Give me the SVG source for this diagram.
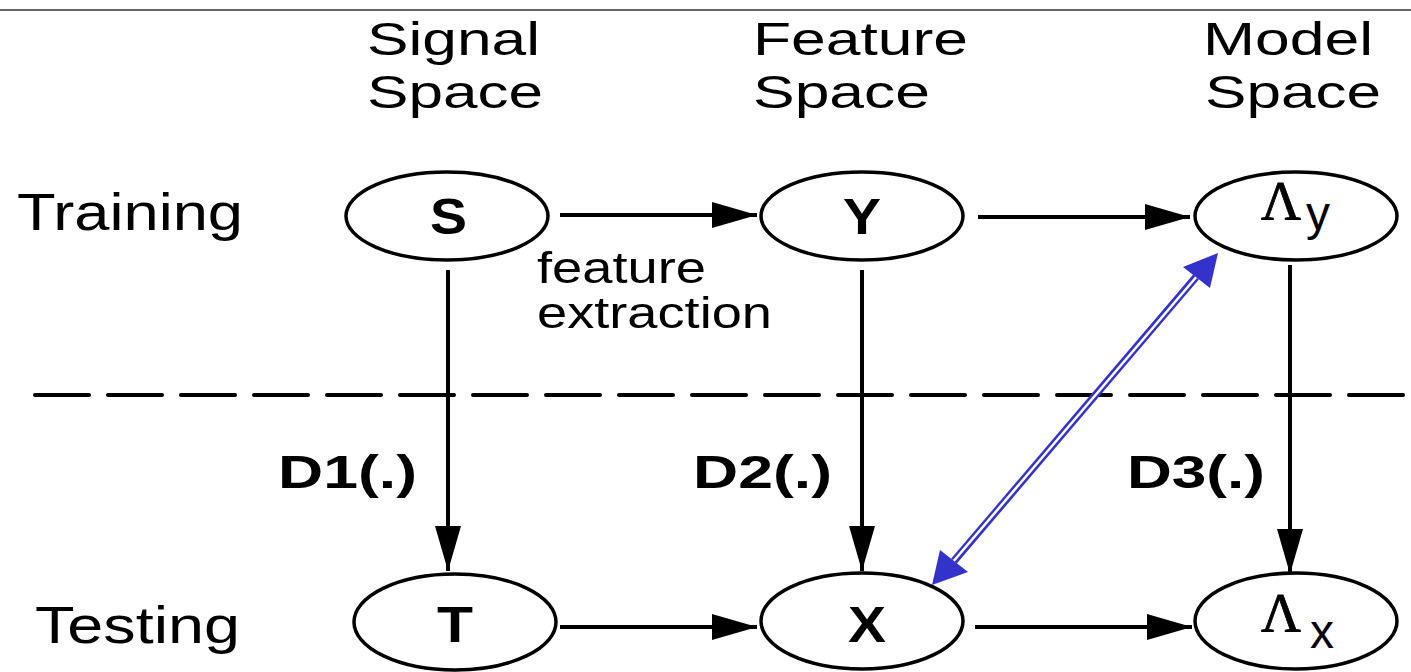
<svg xmlns="http://www.w3.org/2000/svg" width="1411" height="672" viewBox="0 0 1411 672">
<style>
.t{font-family:"Liberation Sans",Arial,sans-serif;font-size:52px;fill:#000}
.h{font-family:"Liberation Sans",Arial,sans-serif;font-size:47px;fill:#000}
.b{font-family:"Liberation Sans",Arial,sans-serif;font-size:46px;font-weight:bold;fill:#000}
.v{font-family:"Liberation Sans",Arial,sans-serif;font-size:50px;font-weight:bold;fill:#000}
.l{font-family:"Liberation Serif","Times New Roman",serif;font-size:54px;fill:#000;stroke:#000;stroke-width:0.8}
.n{fill:#fff;stroke:#000;stroke-width:3.5}
.c{stroke:#000;stroke-width:4;fill:none}
</style>
<defs>
<marker id="ah" viewBox="0 0 45 26" refX="45" refY="13" markerWidth="45" markerHeight="26" markerUnits="userSpaceOnUse" orient="auto">
<path d="M0,0 L45,13 L0,26 z" fill="#000"/>
</marker>
</defs>
<rect width="1411" height="672" fill="#fff"/>
<line x1="0" y1="10" x2="1411" y2="10" stroke="#333" stroke-width="1.5"/>
<g id="headers">
<text class="h" x="367" y="55" textLength="173" lengthAdjust="spacingAndGlyphs">Signal</text>
<text class="h" x="367" y="108" textLength="176" lengthAdjust="spacingAndGlyphs">Space</text>
<text class="h" x="753" y="55" textLength="215" lengthAdjust="spacingAndGlyphs">Feature</text>
<text class="h" x="753" y="108" textLength="177" lengthAdjust="spacingAndGlyphs">Space</text>
<text class="h" x="1203" y="55" textLength="170" lengthAdjust="spacingAndGlyphs">Model</text>
<text class="h" x="1205" y="108" textLength="176" lengthAdjust="spacingAndGlyphs">Space</text>
<text class="t" x="17" y="230" textLength="226" lengthAdjust="spacingAndGlyphs">Training</text>
<text class="t" x="35" y="643" textLength="205" lengthAdjust="spacingAndGlyphs">Testing</text>
</g>
<line id="divider" x1="35" y1="395" x2="1405" y2="395" stroke="#000" stroke-width="4" stroke-linecap="round" stroke-dasharray="54 19"/>
<g id="connectors">
<line class="c" x1="560" y1="215" x2="757" y2="215" marker-end="url(#ah)"/>
<line class="c" x1="978" y1="217" x2="1190" y2="217" marker-end="url(#ah)"/>
<line class="c" x1="560" y1="627" x2="757" y2="627" marker-end="url(#ah)"/>
<line class="c" x1="975" y1="627" x2="1192" y2="627" marker-end="url(#ah)"/>
<line class="c" x1="448" y1="270" x2="448" y2="571" marker-end="url(#ah)"/>
<line class="c" x1="862" y1="270" x2="862" y2="571" marker-end="url(#ah)"/>
<line class="c" x1="1290" y1="265" x2="1290" y2="574" marker-end="url(#ah)"/>
<g id="blue-link">
<line x1="954" y1="561" x2="1196" y2="277" stroke="#3333cc" stroke-width="7.5"/>
<line x1="952" y1="563" x2="1198" y2="275" stroke="#fff" stroke-width="2.5"/>
<polygon points="1218,253 1183,267 1210,288" fill="#3333cc"/>
<polygon points="932,585 940,550 968,572" fill="#3333cc"/>
</g>
</g>
<text class="t" x="537" y="283" textLength="169" lengthAdjust="spacingAndGlyphs" style="font-size:44px">feature</text>
<text class="t" x="537" y="328" textLength="235" lengthAdjust="spacingAndGlyphs" style="font-size:44px">extraction</text>
<text class="b" x="278" y="488" textLength="139" lengthAdjust="spacingAndGlyphs">D1(.)</text>
<text class="b" x="693" y="488" textLength="139" lengthAdjust="spacingAndGlyphs">D2(.)</text>
<text class="b" x="1127" y="488" textLength="138" lengthAdjust="spacingAndGlyphs">D3(.)</text>
<g id="node-S">
<ellipse class="n" cx="447" cy="216" rx="101" ry="44"/>
<text class="v" x="430" y="234" textLength="37" lengthAdjust="spacingAndGlyphs">S</text>
</g>
<g id="node-Y">
<ellipse class="n" cx="862" cy="216" rx="101" ry="44"/>
<text class="v" x="843" y="234" textLength="38" lengthAdjust="spacingAndGlyphs">Y</text>
</g>
<g id="node-Ly">
<ellipse class="n" cx="1296" cy="216" rx="101" ry="44"/>
<text class="l" x="1261" y="219" textLength="40" lengthAdjust="spacingAndGlyphs">Λ</text>
<text class="t" x="1306" y="230" style="font-size:48px">y</text>
</g>
<g id="node-T">
<ellipse class="n" cx="455" cy="622" rx="101" ry="48"/>
<text class="v" x="437" y="642" textLength="36" lengthAdjust="spacingAndGlyphs">T</text>
</g>
<g id="node-X">
<ellipse class="n" cx="862" cy="621" rx="101" ry="48"/>
<text class="v" x="848" y="642" textLength="38" lengthAdjust="spacingAndGlyphs">X</text>
</g>
<g id="node-Lx">
<ellipse class="n" cx="1296" cy="621" rx="101" ry="48"/>
<text class="l" x="1261" y="631" textLength="40" lengthAdjust="spacingAndGlyphs">Λ</text>
<text class="t" x="1310" y="648" style="font-size:48px">x</text>
</g>
</svg>
